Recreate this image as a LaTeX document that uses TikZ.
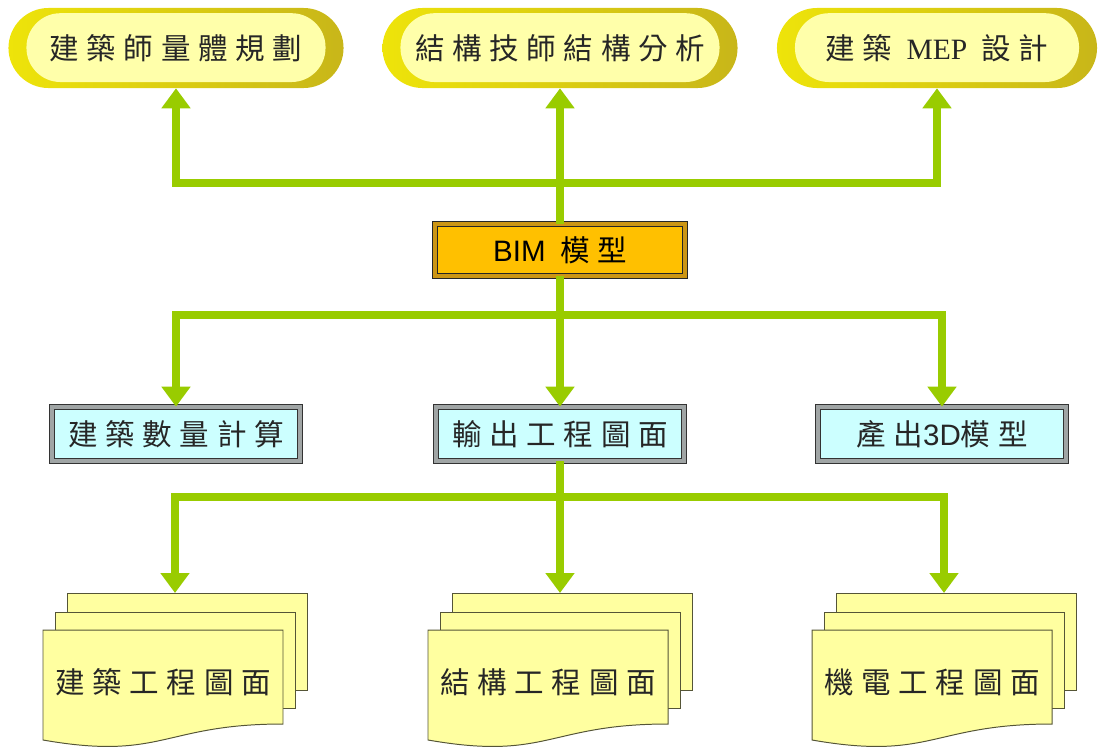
\documentclass[tikz,border=0pt]{standalone}
\usepackage{fontspec}
\usetikzlibrary{arrows.meta}

\newfontfamily\cjk[LetterSpace=26]{Noto Sans CJK TC}
\newfontfamily\latinsans{Liberation Sans}
\newfontfamily\latinserif{Liberation Serif}
\newcommand\labelfont{\cjk\fontsize{21}{24}\selectfont}

\definecolor{flowgreen}{RGB}{153,204,0}
\definecolor{capinner}{RGB}{255,255,170}
\definecolor{capleft}{RGB}{238,228,10}
\definecolor{capright}{RGB}{200,182,25}
\definecolor{bimfill}{RGB}{255,192,0}
\definecolor{bimedge}{RGB}{205,150,20}
\definecolor{taskfill}{RGB}{204,255,255}
\definecolor{taskedge}{RGB}{160,165,165}
\definecolor{sheetfill}{RGB}{255,255,160}
\definecolor{sheetline}{RGB}{85,85,55}

\tikzset{
	capsule/.style={minimum height=2cm, rounded corners=1cm, inner sep=0pt,
		left color=capleft, right color=capright, font=\labelfont, text=black!85,
		path picture={\fill[capinner, rounded corners=0.85cm]
			([xshift=0.45cm,yshift=0.15cm]path picture bounding box.south west) rectangle
			([xshift=-0.45cm,yshift=-0.13cm]path picture bounding box.north east);}},
	bimbox/.style={minimum width=6.25cm, minimum height=1.3cm, fill=bimfill,
		draw=black!85, line width=0.5pt, double=bimedge, double distance=0.1cm,
		font=\labelfont, text=black},
	taskbox/.style={minimum width=6.2cm, minimum height=1.35cm, fill=taskfill,
		draw=black!80, line width=0.5pt, double=taskedge, double distance=0.1cm,
		font=\labelfont, text=black!85},
	sheet/.style={fill=sheetfill, draw=sheetline, line width=0.7pt},
	sheettext/.style={font=\labelfont, text=black!85},
	flowline/.style={draw=flowgreen, line width=0.2cm},
	flow/.style={flowline, -{Triangle[width=0.7cm,length=0.5cm]}},
	sheets/.pic={
		\filldraw[sheet] (24,-37) rectangle (264,60);
		\filldraw[sheet] (12,-18) rectangle (252,78);
		\filldraw[sheet] (0,0) -- (240,0) -- (240,94) .. controls (120,94) and (120,131) .. (0,110) -- cycle;
		\coordinate (-top) at (132,-37);
		\node[sheettext] (-label) at (120,52) {#1};
	}
}

\begin{document}
\begin{tikzpicture}[x=0.025cm, y=-0.025cm]
	\useasboundingbox (0,0) rectangle (1105,751);

	% top: users of the model
	\node[capsule, minimum width=8.375cm] (arch) at (176,48) {建築師量體規劃};
	\node[capsule, minimum width=8.875cm] (struc) at (560,48) {結構技師結構分析};
	\node[capsule, minimum width=8cm] (mep) at (937,48) {建築\ {\latinserif MEP}\ 設計};

	\node[bimbox] (bim) at (560,250) {{\latinsans BIM} 模型};

	% outputs
	\node[taskbox] (qty) at (176,434) {建築數量計算};
	\node[taskbox] (output) at (560,434) {輸出工程圖面};
	\node[taskbox] (model) at (942,434) {產出{\latinsans 3D}模型};

	\pic (archdwg) at (43,630) {sheets=建築工程圖面};
	\pic (strucdwg) at (428,630) {sheets=結構工程圖面};
	\pic (mepdwg) at (812,630) {sheets=機電工程圖面};

	\coordinate (tophub) at (560,183);
	\coordinate (midhub) at (560,315);
	\coordinate (dwghub) at (560,497);

	\draw[flow] (bim.north) -- (struc.south);
	\draw[flow] (tophub) -| (arch.south);
	\draw[flow] (tophub) -| (mep.south);

	\draw[flow] (bim.south) -- (output.north);
	\draw[flow] (midhub) -| (qty.north);
	\draw[flow] (midhub) -| (model.north);

	\draw[flowline] (output.south) -- (dwghub);
	\draw[flow] (dwghub) -- (strucdwg-top);
	\draw[flow] (dwghub) -| (archdwg-top);
	\draw[flow] (dwghub) -| (mepdwg-top);
\end{tikzpicture}
\end{document}
